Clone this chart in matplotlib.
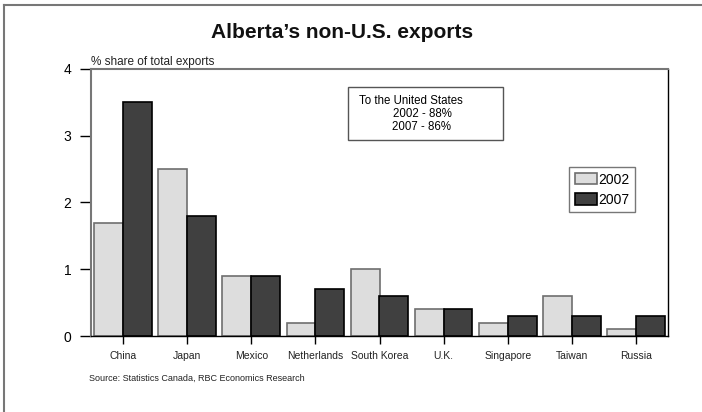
import matplotlib
matplotlib.use("Agg")
import matplotlib.pyplot as plt
from matplotlib.lines import Line2D
import numpy as np

countries = ["China", "Japan", "Mexico", "Netherlands", "South Korea",
             "U.K.", "Singapore", "Taiwan", "Russia"]
share_2002 = [1.7, 2.5, 0.9, 0.2, 1.0, 0.4, 0.2, 0.6, 0.1]
share_2007 = [3.5, 1.8, 0.9, 0.7, 0.6, 0.4, 0.3, 0.3, 0.3]
series_labels = ["2002", "2007"]
y_ticks = [0, 1, 2, 3, 4]

FONT = ["Liberation Sans Narrow", "Liberation Sans", "DejaVu Sans"]
plt.rcParams["font.family"] = FONT

fig = plt.figure(figsize=(7.02, 4.12), dpi=100)
ax = fig.add_axes([91 / 702, 1 - 336 / 412, (668 - 91) / 702, (336 - 69) / 412])

x = np.arange(len(countries))
w = 0.45
ax.bar(x - w / 2, share_2002, width=w, color="#dddddd", edgecolor="#6e6e6e",
       linewidth=1.2, label=series_labels[0], zorder=2)
ax.bar(x + w / 2, share_2007, width=w, color="#404040", edgecolor="#000000",
       linewidth=1.2, label=series_labels[1], zorder=2)

ax.set_xlim(-0.5, len(countries) - 0.5)
ax.set_ylim(0, 4)
ax.set_yticks(y_ticks)
ax.set_yticklabels([str(t) for t in y_ticks], fontsize=10)
ax.set_xticks(x)
ax.set_xticklabels(countries, fontsize=7.5, color="#222222")
ax.tick_params(axis="y", direction="out", length=8, width=1, pad=6)
ax.tick_params(axis="x", direction="out", length=6, width=1, pad=5)

for side in ["left", "top"]:
    ax.spines[side].set_color("#777777")
    ax.spines[side].set_linewidth(1.5)
for side in ["right", "bottom"]:
    ax.spines[side].set_color("#000000")
    ax.spines[side].set_linewidth(1.0)

ax.text(0.0, 1.005, "% share of total exports", transform=ax.transAxes,
        fontsize=8.5, ha="left", va="bottom", color="#222222")

leg = ax.legend(loc="upper left", bbox_to_anchor=((569 - 91) / 577, (336 - 167) / 267),
                fontsize=10, frameon=True, fancybox=False, handlelength=1.6,
                handleheight=0.85, handletextpad=0.1, borderpad=0.4,
                labelspacing=0.45, borderaxespad=0)
leg.get_frame().set_edgecolor("#555555")
leg.get_frame().set_linewidth(1.0)

# note box about US share
ax.text((359 - 91) / 577, (336 - 101) / 267, "To the United States",
        transform=ax.transAxes, fontsize=8.3, ha="left", va="center", zorder=5)
ax.text((422 - 91) / 577, (336 - 114) / 267, "2002 - 88%",
        transform=ax.transAxes, fontsize=8.3, ha="center", va="center", zorder=5)
ax.text((422 - 91) / 577, (336 - 127) / 267, "2007 - 86%",
        transform=ax.transAxes, fontsize=8.3, ha="center", va="center", zorder=5)
box = plt.Rectangle(((348 - 91) / 577, (336 - 140) / 267), (503 - 348) / 577,
                    (140 - 87) / 267, transform=ax.transAxes, fill=False,
                    edgecolor="#555555", linewidth=1.0, zorder=4)
ax.add_patch(box)

fig.text(342 / 702, 1 - 33 / 412, "Alberta\u2019s non-U.S. exports", fontsize=15,
         fontweight="bold", ha="center", va="center", color="#111111")
fig.text(89 / 702, 1 - 378 / 412, "Source: Statistics Canada, RBC Economics Research",
         fontsize=6.5, ha="left", va="center", color="#222222")

# outer frame (left and top edges)
fig.add_artist(Line2D([3.5 / 702, 3.5 / 702], [0, 1 - 5 / 412], transform=fig.transFigure,
                      color="#777777", linewidth=1.5))
fig.add_artist(Line2D([3.5 / 702, 1], [1 - 5 / 412, 1 - 5 / 412], transform=fig.transFigure,
                      color="#777777", linewidth=1.5))

fig.savefig("out.png", dpi=100)
